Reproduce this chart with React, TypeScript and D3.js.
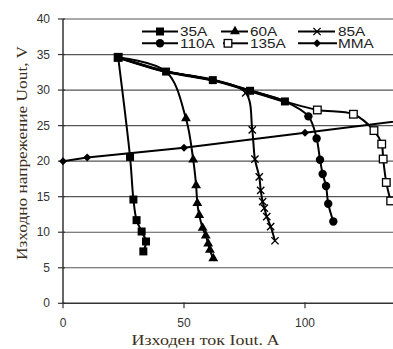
import * as d3 from 'd3';

// envelope (load line) shared by all current settings
const envelope: [number, number][] = [[22.8, 34.6], [42.6, 32.6], [61.9, 31.4], [77.3, 29.9], [91.7, 28.4]];
const a35: [number, number][] = [[27.7, 20.6], [29.1, 14.6], [30.4, 11.7], [32.5, 10.1], [34.3, 8.7], [33.2, 7.3]];
const a60: [number, number][] = [[50.8, 26.0], [53.8, 20.2], [55.0, 16.6], [55.5, 14.1], [56.3, 12.4], [57.7, 10.6], [59.0, 9.5], [60.0, 8.4], [60.7, 7.5], [62.1, 6.3]];
const a85: [number, number][] = [[75.5, 29.6], [78.2, 24.4], [79.3, 20.3], [81.1, 17.8], [81.7, 15.9], [82.5, 14.3], [83.2, 13.4], [84.2, 12.2], [85.8, 10.8], [87.6, 8.8]];
const a110: [number, number][] = [[101.4, 26.3], [104.8, 23.2], [106.2, 20.2], [107.3, 18.2], [108.7, 16.5], [109.6, 14.0], [111.7, 11.5]];
const a135: [number, number][] = [[105.1, 27.2], [120.0, 26.6], [128.5, 24.3], [131.7, 22.4], [132.3, 20.3], [133.6, 17.0], [135.4, 14.4]];
const mma: [number, number][] = [[0, 20], [10, 20.5], [50, 21.9], [100, 24.0], [150, 26.1]];

// how many envelope points each curve follows before dropping
const envUsed = { '35A': 1, '60A': 2, '85A': 3, '110A': 5, '135A': 5 };

const X_TICKS = [0, 50, 100];
const Y_TICKS = [0, 5, 10, 15, 20, 25, 30, 35, 40];

type Mk = 'square' | 'triangle' | 'x' | 'circle' | 'open' | 'diamond';

const SERIES: { name: string; own: [number, number][]; env: number; mk: Mk }[] = [
  { name: '35A', own: a35, env: envUsed['35A'], mk: 'square' },
  { name: '60A', own: a60, env: envUsed['60A'], mk: 'triangle' },
  { name: '85A', own: a85, env: envUsed['85A'], mk: 'x' },
  { name: '110A', own: a110, env: envUsed['110A'], mk: 'circle' },
  { name: '135A', own: a135, env: envUsed['135A'], mk: 'open' },
];

const W = 393, H = 349;
const x = d3.scaleLinear().domain([0, 140]).range([63, 63 + 140 * 2.42]);
const y = d3.scaleLinear().domain([0, 40]).range([303.3, 19]);

const smooth = d3.line<[number, number]>().x((d) => x(d[0])).y((d) => y(d[1])).curve(d3.curveCatmullRom.alpha(0.5));
const straight = d3.line<[number, number]>().x((d) => x(d[0])).y((d) => y(d[1]));

function Marker({ kind, cx, cy, big }: { kind: Mk; cx: number; cy: number; big?: boolean }) {
  const t = `translate(${cx},${cy})`;
  if (kind === 'square') {
    const s = big ? 9 : 8;
    return <rect x={cx - s / 2} y={cy - s / 2} width={s} height={s} fill="#000" />;
  }
  if (kind === 'open') return <rect x={cx - 3.8} y={cy - 3.8} width={7.6} height={7.6} fill="#fff" stroke="#000" strokeWidth={1.3} />;
  if (kind === 'circle') return <circle cx={cx} cy={cy} r={4.2} fill="#000" />;
  if (kind === 'triangle') return <path transform={t} d={d3.symbol(d3.symbolTriangle, 42)()!} fill="#000" />;
  if (kind === 'diamond') return <path transform={`${t} rotate(45)`} d={d3.symbol(d3.symbolSquare, 32)()!} fill="#000" />;
  return <path transform={t} d={d3.symbol(d3.symbolX, 36)()!} fill="none" stroke="#000" strokeWidth={1.4} />;
}

const LEGEND: { name: string; mk: Mk; x0: number; x1: number; mx: number; row: number }[] = [
  { name: '35A', mk: 'square', x0: 142, x1: 178, mx: 160, row: 0 },
  { name: '60A', mk: 'triangle', x0: 221, x1: 248, mx: 235, row: 0 },
  { name: '85A', mk: 'x', x0: 298, x1: 335, mx: 317, row: 0 },
  { name: '110A', mk: 'circle', x0: 142, x1: 178, mx: 160, row: 1 },
  { name: '135A', mk: 'open', x0: 223, x1: 248, mx: 228, row: 1 },
  { name: 'MMA', mk: 'diamond', x0: 298, x1: 337, mx: 317, row: 1 },
];
const LEG_X = { '35A': 180, '60A': 250, '85A': 338, '110A': 180, '135A': 250, MMA: 338 } as Record<string, number>;

export default function App() {
  const sans = 'Liberation Sans, Arial, sans-serif';
  const serif = 'Liberation Serif, Times New Roman, serif';
  const x0 = x(0), yb = y(0);
  return (
    <svg width={W} height={H} style={{ position: 'absolute', left: 0, top: 0, background: '#fff' }}>
      <defs>
        <clipPath id="plot"><rect x={x0 - 6} y={0} width={W - x0 + 6} height={yb + 6} /></clipPath>
      </defs>
      {/* grid */}
      {Y_TICKS.filter((t) => t > 0).map((t) => (
        <line key={t} x1={x0} x2={W} y1={y(t)} y2={y(t)} stroke="#555" strokeWidth={1.2} />
      ))}
      {/* axes */}
      <line x1={x0} x2={x0} y1={y(40)} y2={yb} stroke="#333" strokeWidth={1.5} />
      <line x1={x0} x2={W} y1={yb} y2={yb} stroke="#333" strokeWidth={1.5} />
      {Y_TICKS.map((t) => (
        <g key={t}>
          <line x1={x0 - 5} x2={x0 + 2} y1={y(t)} y2={y(t)} stroke="#333" strokeWidth={1.2} />
          <text x={x0 - 13} y={y(t) + 4} textAnchor="end" fontSize={12} fontFamily={sans} fill="#333">{t}</text>
        </g>
      ))}
      {X_TICKS.map((t) => (
        <g key={t}>
          <line x1={x(t)} x2={x(t)} y1={yb - 1} y2={yb + 5} stroke="#333" strokeWidth={1.2} />
          <text x={x(t)} y={yb + 24} textAnchor="middle" fontSize={12} fontFamily={sans} fill="#333">{t}</text>
        </g>
      ))}
      {/* series */}
      <g clipPath="url(#plot)">
        {SERIES.map((s) => (
          <path key={s.name} d={smooth([...envelope.slice(0, s.env), ...s.own])!} fill="none" stroke="#000" strokeWidth={2} />
        ))}
        <path d={smooth(envelope)!} fill="none" stroke="#000" strokeWidth={3} />
        <path d={straight(mma)!} fill="none" stroke="#000" strokeWidth={2} />
        {envelope.map((d, i) => <Marker key={'e' + i} kind="square" cx={x(d[0])} cy={y(d[1])} big={i === 0} />)}
        {SERIES.map((s) => s.own.map((d, i) => <Marker key={s.name + i} kind={s.mk} cx={x(d[0])} cy={y(d[1])} />))}
        {mma.map((d, i) => <Marker key={'m' + i} kind="diamond" cx={x(d[0])} cy={y(d[1])} />)}
      </g>
      {/* legend */}
      {LEGEND.map((l) => {
        const cy = l.row === 0 ? 31.5 : 43.3;
        return (
          <g key={l.name}>
            <line x1={l.x0} x2={l.x1} y1={cy} y2={cy} stroke="#000" strokeWidth={2} />
            <Marker kind={l.mk} cx={l.mx} cy={cy} />
            <text transform={`translate(${LEG_X[l.name]},${cy + 4.5}) scale(1.28,1)`} fontSize={12} fontFamily={sans} fill="#222">{l.name}</text>
          </g>
        );
      })}
      {/* axis titles */}
      <text x={205.5} y={345} textAnchor="middle" fontSize={15} fontFamily={serif} fill="#3d3020" textLength={148} lengthAdjust="spacingAndGlyphs">Изходен ток Iout. A</text>
      <text transform={`translate(27,153) rotate(-90)`} textAnchor="middle" fontSize={15} fontFamily={serif} fill="#3d3020" textLength={214} lengthAdjust="spacingAndGlyphs">Изходно напрежение Uout, V</text>
    </svg>
  );
}
